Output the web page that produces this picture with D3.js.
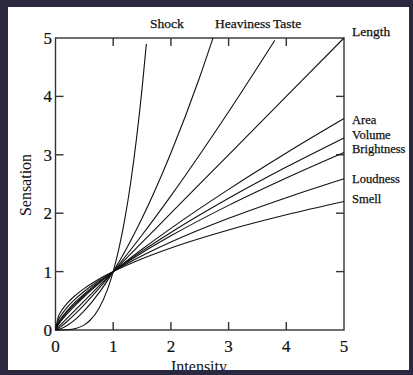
<!DOCTYPE html>
<html>
<head>
<meta charset="utf-8">
<script src="https://cdn.jsdelivr.net/npm/d3@7"></script>
<style>
  html, body { margin: 0; padding: 0; background: #29283f; }
  svg { display: block; }
  text { font-family: "Liberation Serif", "DejaVu Serif", serif; fill: #111; }
</style>
</head>
<body>
<svg id="chart" width="413" height="375"></svg>
<script>
// Stevens power-law curves: sensation magnitude against stimulus intensity
const intensity = [0, 0.05, 0.1, 0.2, 0.35, 0.5, 0.75, 1, 1.5, 2, 3, 4, 5];

const areaVals       = [0, 0.091, 0.158, 0.276, 0.432, 0.574, 0.794, 1, 1.383, 1.741, 2.408, 3.031, 3.62];
const volumeVals     = [0, 0.109, 0.182, 0.304, 0.460, 0.599, 0.808, 1, 1.350, 1.670, 2.255, 2.790, 3.29];
const brightnessVals = [0, 0.127, 0.204, 0.329, 0.485, 0.620, 0.820, 1, 1.323, 1.613, 2.134, 2.603, 3.04];
const loudnessVals   = [0, 0.171, 0.257, 0.387, 0.538, 0.664, 0.844, 1, 1.270, 1.505, 1.912, 2.266, 2.59];
const smellVals      = [0, 0.230, 0.324, 0.455, 0.598, 0.712, 0.869, 1, 1.220, 1.405, 1.713, 1.972, 2.20];
const lengthVals     = [0, 0.05, 0.1, 0.2, 0.35, 0.5, 0.75, 1, 1.5, 2, 3, 4, 5];

const tasteX      = [0, 0.05, 0.1, 0.2, 0.35, 0.5, 0.75, 1, 1.5, 2, 3, 3.8];
const tasteVals   = [0, 0.027, 0.063, 0.145, 0.284, 0.435, 0.708, 1, 1.627, 2.297, 3.737, 4.96];

const heavyX      = [0, 0.05, 0.1, 0.2, 0.35, 0.5, 0.75, 1, 1.5, 2, 2.5, 2.73];
const heavyVals   = [0, 0.008, 0.025, 0.076, 0.186, 0.330, 0.631, 1, 1.913, 3.031, 4.332, 5.0];

const shockX      = [0, 0.2, 0.35, 0.5, 0.6, 0.75, 0.9, 1, 1.1, 1.2, 1.3, 1.4, 1.5, 1.575];
const shockVals   = [0, 0.004, 0.025, 0.088, 0.167, 0.365, 0.692, 1, 1.396, 1.893, 2.505, 3.247, 4.134, 4.9];

const series = [
  { name: "Shock",      xs: shockX,    ys: shockVals },
  { name: "Heaviness",  xs: heavyX,    ys: heavyVals },
  { name: "Taste",      xs: tasteX,    ys: tasteVals },
  { name: "Length",     xs: intensity, ys: lengthVals },
  { name: "Area",       xs: intensity, ys: areaVals },
  { name: "Volume",     xs: intensity, ys: volumeVals },
  { name: "Brightness", xs: intensity, ys: brightnessVals },
  { name: "Loudness",   xs: intensity, ys: loudnessVals },
  { name: "Smell",      xs: intensity, ys: smellVals }
];

const tickValues = [0, 1, 2, 3, 4, 5];

// labels at the ends of the curves
const topLabels   = [ { text: "Shock", x: 150, y: 28 }, { text: "Heaviness", x: 215, y: 28 },
                      { text: "Taste", x: 273, y: 28 }, { text: "Length", x: 352, y: 36 } ];
const sideLabels  = [ { text: "Area", y: 124 }, { text: "Volume", y: 138.5 }, { text: "Brightness", y: 153 },
                      { text: "Loudness", y: 183 }, { text: "Smell", y: 203 } ];

const svg = d3.select("#chart");
const W = 413, H = 375;

svg.append("defs").append("clipPath").attr("id", "panel")
  .append("rect").attr("x", 8).attr("y", 7).attr("width", 401).attr("height", 363);

svg.append("rect").attr("width", W).attr("height", H).attr("fill", "#29283f");
const root = svg.append("g").attr("clip-path", "url(#panel)");
root.append("rect").attr("x", 8).attr("y", 7).attr("width", 401).attr("height", 363).attr("fill", "#fff");

const x = d3.scaleLinear().domain([0, 5]).range([55.5, 344]);
const y = d3.scaleLinear().domain([0, 5]).range([330, 38]);

const axisColor = "#333";
const tickLen = 8;

// frame
root.append("rect")
  .attr("x", x(0)).attr("y", y(5))
  .attr("width", x(5) - x(0)).attr("height", y(0) - y(5))
  .attr("fill", "none").attr("stroke", axisColor).attr("stroke-width", 1.4);

// inward ticks on all four sides
const inner = tickValues.filter(v => v > 0 && v < 5);
const ticks = root.append("g").attr("stroke", axisColor).attr("stroke-width", 1.4);
inner.forEach(v => {
  ticks.append("line").attr("x1", x(v)).attr("x2", x(v)).attr("y1", y(0)).attr("y2", y(0) - tickLen);
  ticks.append("line").attr("x1", x(v)).attr("x2", x(v)).attr("y1", y(5)).attr("y2", y(5) + tickLen);
  ticks.append("line").attr("y1", y(v)).attr("y2", y(v)).attr("x1", x(0)).attr("x2", x(0) + tickLen);
  ticks.append("line").attr("y1", y(v)).attr("y2", y(v)).attr("x1", x(5)).attr("x2", x(5) - tickLen);
});

// tick labels
root.append("g").selectAll("text").data(tickValues).join("text")
  .attr("x", d => x(d)).attr("y", 352)
  .attr("text-anchor", "middle").attr("font-size", 17)
  .attr("stroke", "#111").attr("stroke-width", 0.2)
  .text(d => d);
root.append("g").selectAll("text").data(tickValues).join("text")
  .attr("x", 52).attr("y", d => y(d) + 6)
  .attr("text-anchor", "end").attr("font-size", 17)
  .attr("stroke", "#111").attr("stroke-width", 0.2)
  .text(d => d);

// axis titles
root.append("text")
  .attr("transform", "translate(31,185) rotate(-90)")
  .attr("text-anchor", "middle").attr("font-size", 16)
  .text("Sensation");
root.append("text")
  .attr("x", 199).attr("y", 372)
  .attr("text-anchor", "middle").attr("font-size", 16)
  .text("Intensity");

// curves
const line = d3.line()
  .x(d => x(d[0])).y(d => y(d[1]))
  .curve(d3.curveMonotoneX);

root.append("g").selectAll("path").data(series).join("path")
  .attr("d", s => line(s.xs.map((v, i) => [v, s.ys[i]])))
  .attr("fill", "none").attr("stroke", "#111").attr("stroke-width", 1.1);

// curve labels
root.append("g").selectAll("text").data(topLabels).join("text")
  .attr("x", d => d.x).attr("y", d => d.y)
  .attr("font-size", 13.5)
  .attr("stroke", "#111").attr("stroke-width", 0.25)
  .text(d => d.text);
root.append("g").selectAll("text").data(sideLabels).join("text")
  .attr("x", 352).attr("y", d => d.y)
  .attr("font-size", 12.5)
  .attr("stroke", "#111").attr("stroke-width", 0.25)
  .text(d => d.text);
</script>
</body>
</html>
